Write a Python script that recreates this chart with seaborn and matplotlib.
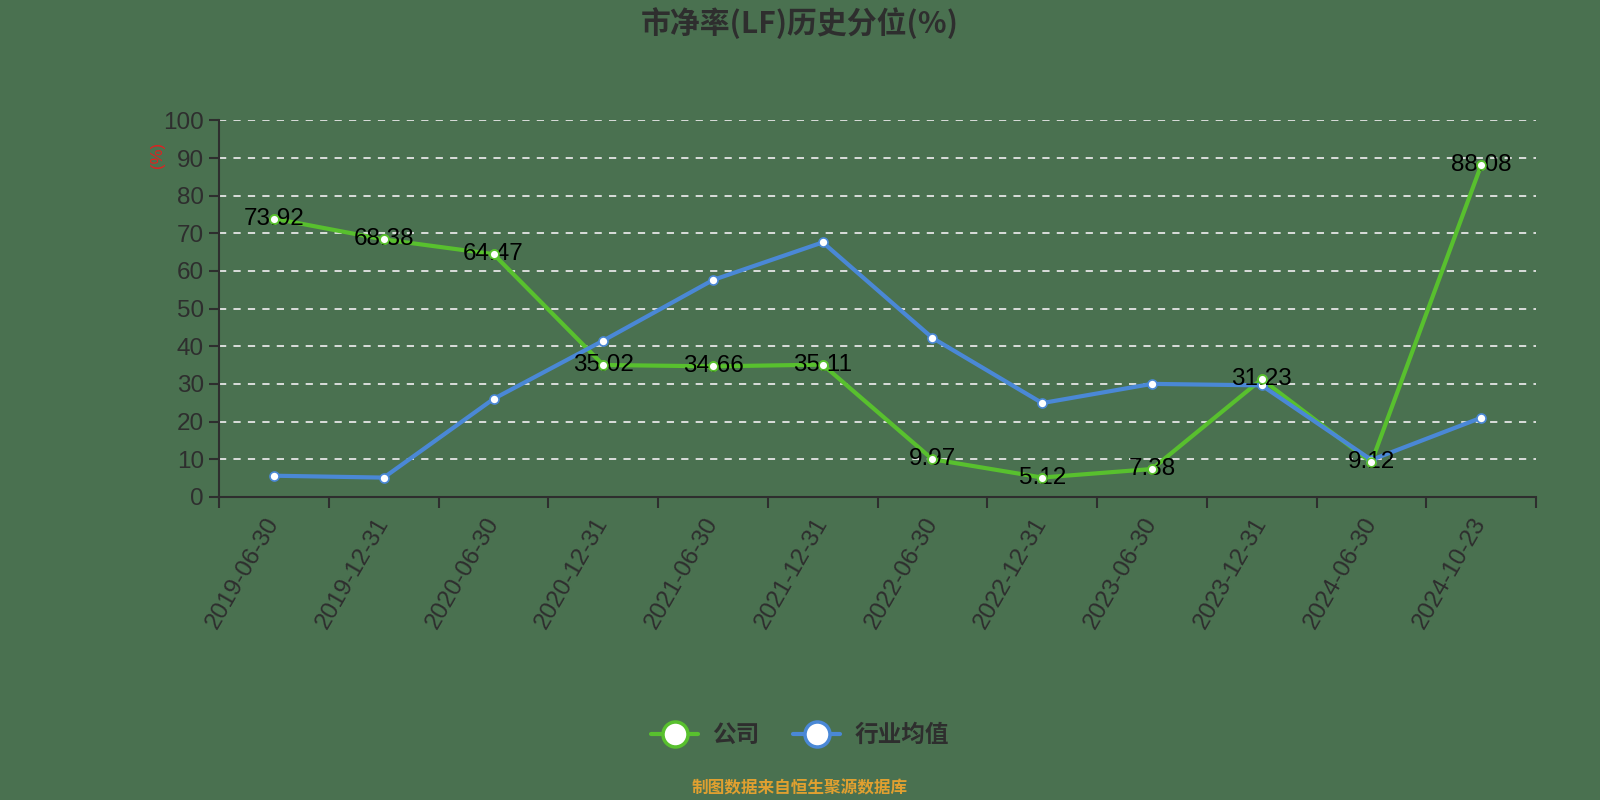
import numpy as np
import pandas as pd
import matplotlib
matplotlib.use("Agg")
import matplotlib.pyplot as plt
import seaborn as sns
from matplotlib.lines import Line2D

dates = ["2019-06-30", "2019-12-31", "2020-06-30", "2020-12-31", "2021-06-30", "2021-12-31",
         "2022-06-30", "2022-12-31", "2023-06-30", "2023-12-31", "2024-06-30", "2024-10-23"]
company = [73.92, 68.38, 64.47, 35.02, 34.66, 35.11, 9.97, 5.12, 7.38, 31.23, 9.12, 88.08]
industry = [5.6, 5.1, 26.0, 41.5, 57.6, 67.6, 42.2, 24.9, 30.0, 29.6, 9.8, 21.0]
series_names = ["公司", "行业均值"]

BG = "#4a7150"
GREEN = "#58c02e"
BLUE = "#4a88d6"
DARK = "#2e2e2e"

sns.set_theme(style="white")
plt.rcParams["font.family"] = ["Liberation Sans", "Noto Sans CJK SC", "DejaVu Sans"]

df = pd.DataFrame({
    "pos": list(range(len(dates))) * 2,
    "value": company + industry,
    "series": [series_names[0]] * len(dates) + [series_names[1]] * len(dates),
})

fig = plt.figure(figsize=(16, 8), dpi=100, facecolor=BG)
ax = fig.add_axes([0.137, 0.379, 0.823, 0.4705])
ax.set_facecolor(BG)

sns.lineplot(data=df, x="pos", y="value", hue="series",
             palette={series_names[0]: GREEN, series_names[1]: BLUE},
             linewidth=3, marker="o", markersize=6.5, markerfacecolor="white",
             markeredgewidth=1.2, legend=False, ax=ax, zorder=3)
for line, c in zip(ax.get_lines(), [GREEN, BLUE]):
    line.set_markeredgecolor(c)

# labels sit over the line, the white dots on top of the labels
for i, v in enumerate(company):
    ax.text(i, v, f"{v:.2f}", ha="center", va="center", fontsize=17.5,
            color="black", zorder=4)
comp_df = df[df["series"] == series_names[0]]
sns.scatterplot(data=comp_df, x="pos", y="value", s=40, color="white",
                edgecolor=GREEN, linewidth=1.2, ax=ax, zorder=5, legend=False)

ax.set_xlim(-0.5, len(dates) - 0.5)
ax.set_ylim(0, 100)
ax.set_yticks(np.arange(0, 101, 10))
ax.yaxis.grid(True, linestyle=(0, (4, 4)), color="#e6e6e6", linewidth=1.3)
ax.xaxis.grid(False)

ax.set_xticks(np.arange(-0.5, len(dates), 1.0))
ax.set_xticklabels([])
ax.set_xticks(np.arange(len(dates)), minor=True)
ax.set_xticklabels(dates, minor=True, rotation=60, ha="right", va="center",
                   rotation_mode="anchor", fontsize=17.5, color=DARK)
ax.tick_params(axis="x", which="major", length=8, width=1.5, color=DARK, direction="out")
ax.tick_params(axis="x", which="minor", length=0, pad=16)
ax.tick_params(axis="y", length=7, width=1.5, color=DARK, labelsize=17.5, labelcolor=DARK, pad=4)
ax.tick_params(axis="both", bottom=True, left=True)

for s in ["top", "right"]:
    ax.spines[s].set_visible(False)
for s in ["left", "bottom"]:
    ax.spines[s].set_color(DARK)
    ax.spines[s].set_linewidth(1.5)

ax.set_xlabel("")
ax.set_ylabel("")
fig.text(0.0985, 0.806, "(%)", rotation=90, color="#e02020", fontsize=12,
         ha="center", va="center")

fig.text(0.5, 0.971, "市净率(LF)历史分位(%)", ha="center", va="center",
         fontsize=21.5, fontweight="bold", color=DARK,
         family=["Noto Sans CJK SC", "DejaVu Sans"])

handles = [Line2D([0], [0], color=GREEN, linewidth=3, marker="o", markersize=18,
                  markerfacecolor="white", markeredgecolor=GREEN, markeredgewidth=2.5),
           Line2D([0], [0], color=BLUE, linewidth=3, marker="o", markersize=18,
                  markerfacecolor="white", markeredgecolor=BLUE, markeredgewidth=2.5)]
fig.legend(handles, series_names, loc="center", bbox_to_anchor=(0.5, 0.081), ncol=2,
           frameon=False, labelcolor=DARK, handlelength=2.0,
           columnspacing=1.4, handletextpad=0.6,
           prop={"family": ["Noto Sans CJK SC", "DejaVu Sans"], "size": 17, "weight": "bold"})

fig.text(0.5, 0.014, "制图数据来自恒生聚源数据库", ha="center", va="center",
         fontsize=12, color="#e0a030", fontweight="bold",
         family=["Noto Sans CJK SC", "DejaVu Sans"])

fig.savefig("out.png", dpi=100, facecolor=BG)
